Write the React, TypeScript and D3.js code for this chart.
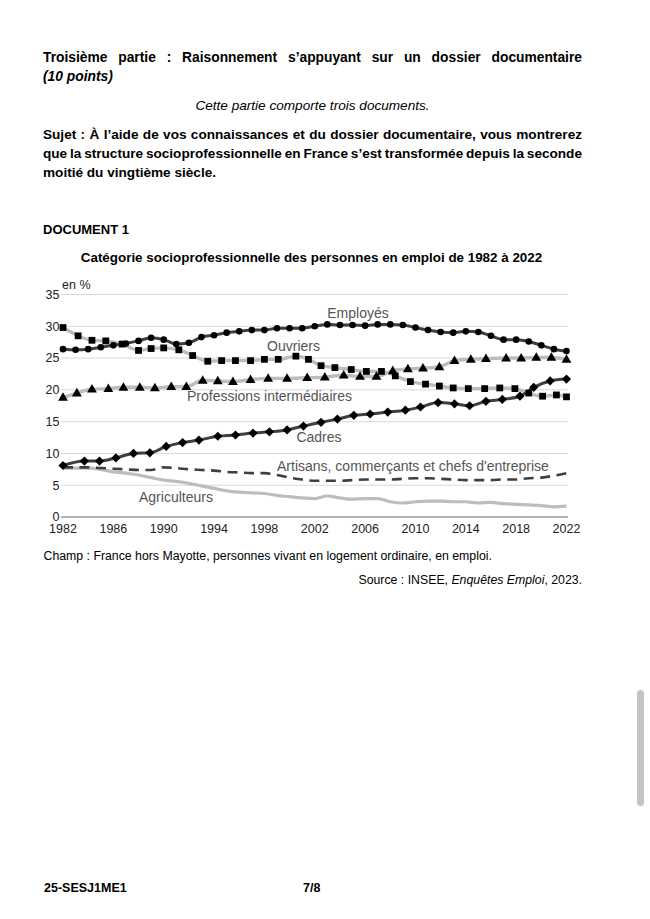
import React, { useLayoutEffect, useRef, useState } from "react";
import * as d3 from "d3";

// ---------- DATA ----------
const annualYears = [
  1982, 1983, 1984, 1985, 1986, 1987, 1988, 1989, 1990, 1991, 1992, 1993, 1994, 1995,
  1996, 1997, 1998, 1999, 2000, 2001, 2002, 2003, 2004, 2005, 2006, 2007, 2008, 2009,
  2010, 2011, 2012, 2013, 2014, 2015, 2016, 2017, 2018, 2019, 2020, 2021, 2022,
];
const employesValues = [
  26.4, 26.3, 26.4, 26.7, 27.0, 27.3, 27.7, 28.2, 27.9, 27.2, 27.4, 28.3, 28.6, 29.0,
  29.2, 29.4, 29.4, 29.7, 29.7, 29.7, 30.0, 30.3, 30.2, 30.2, 30.1, 30.3, 30.3, 30.2,
  29.8, 29.4, 29.1, 29.0, 29.2, 29.1, 28.5, 27.9, 27.9, 27.6, 27.0, 26.4, 26.1,
];
const artisansValues = [
  7.8, 7.8, 7.8, 7.7, 7.6, 7.5, 7.4, 7.4, 7.8, 7.7, 7.5, 7.4, 7.3, 7.1,
  7.0, 6.9, 6.9, 6.6, 6.2, 5.9, 5.7, 5.7, 5.7, 5.8, 5.9, 5.9, 5.9, 6.0,
  6.1, 6.1, 6.0, 5.9, 5.8, 5.8, 5.8, 5.9, 5.9, 6.1, 6.2, 6.5, 6.9,
];
const agriculteursValues = [
  7.7, 7.7, 7.7, 7.5, 7.1, 6.9, 6.6, 6.2, 5.8, 5.6, 5.3, 4.9, 4.5, 4.1,
  3.9, 3.8, 3.7, 3.4, 3.2, 3.0, 2.9, 3.3, 3.0, 2.8, 2.9, 2.9, 2.4, 2.2,
  2.4, 2.5, 2.5, 2.4, 2.4, 2.2, 2.3, 2.1, 2.0, 1.9, 1.8, 1.6, 1.7,
];
const ouvriersYears = [
  1982.0, 1983.2, 1984.3, 1985.4, 1986.7, 1988.0, 1989.0, 1990.0, 1991.2, 1992.3, 1993.5, 1994.6,
  1995.7, 1996.9, 1998.0, 1999.1, 2000.5, 2001.5, 2002.5, 2003.6, 2004.9, 2006.1, 2007.3, 2008.4,
  2009.6, 2010.8, 2011.9, 2013.0, 2014.2, 2015.5, 2016.7, 2017.9, 2019.0, 2020.1, 2021.2, 2022.0,
];
const ouvriersValues = [
  29.8, 28.5, 27.8, 27.7, 27.2, 26.2, 26.5, 26.6, 26.3, 25.4, 24.5, 24.6,
  24.6, 24.6, 24.8, 24.8, 25.3, 24.8, 23.8, 23.5, 23.2, 22.9, 22.9, 22.2,
  21.3, 20.9, 20.6, 20.3, 20.2, 20.2, 20.3, 20.2, 19.5, 19.0, 19.2, 18.9,
];
const professionsYears = [
  1982.0, 1983.1, 1984.3, 1985.6, 1986.8, 1988.1, 1989.3, 1990.6, 1991.8, 1993.1, 1994.3,
  1995.5, 1996.9, 1998.3, 1999.8, 2001.4, 2002.8, 2004.3, 2005.6, 2006.9, 2008.2, 2009.4,
  2010.6, 2011.9, 2013.1, 2014.4, 2015.6, 2017.2, 2018.4, 2019.6, 2020.8, 2022.0,
];
const professionsValues = [
  18.8, 19.5, 20.1, 20.2, 20.4, 20.4, 20.3, 20.5, 20.5, 21.5, 21.4,
  21.3, 21.6, 21.8, 21.8, 21.9, 22.0, 22.3, 22.1, 22.1, 23.0, 23.3,
  23.4, 23.6, 24.6, 24.8, 24.9, 25.0, 25.0, 25.1, 25.1, 24.8,
];
const cadresYears = [
  1982.0, 1983.7, 1984.9, 1986.2, 1987.6, 1988.9, 1990.2, 1991.5, 1992.8, 1994.3, 1995.7,
  1997.1, 1998.4, 1999.8, 2001.1, 2002.5, 2003.8, 2005.1, 2006.4, 2007.8, 2009.2, 2010.4,
  2011.8, 2013.1, 2014.3, 2015.6, 2016.9, 2018.3, 2019.4, 2020.7, 2022.0,
];
const cadresValues = [
  8.1, 8.8, 8.8, 9.3, 10.0, 10.1, 11.1, 11.7, 12.1, 12.7, 12.9,
  13.2, 13.4, 13.7, 14.3, 14.9, 15.4, 16.0, 16.2, 16.5, 16.8, 17.3,
  18.0, 17.8, 17.5, 18.2, 18.5, 19.0, 20.4, 21.4, 21.7,
];
const yTicks = [0, 5, 10, 15, 20, 25, 30, 35];
const xTickLabels = [1982, 1986, 1990, 1994, 1998, 2002, 2006, 2010, 2014, 2018, 2022];

const seriesLabels = {
  employes: "Employés",
  ouvriers: "Ouvriers",
  professions: "Professions intermédiaires",
  cadres: "Cadres",
  artisans: "Artisans, commerçants et chefs d'entreprise",
  agriculteurs: "Agriculteurs",
};

// ---------- STYLE ----------
const FONT = "'Liberation Sans', Arial, Helvetica, sans-serif";
const DARK = "#3f3f3f";
const LIGHT = "#bdbdbd";

type Pt = [number, number];
const zip = (xs: number[], ys: number[]): Pt[] => xs.map((x, i) => [x, ys[i]]);

function JustifiedText(props: {
  x: number; y: number; width: number; text: string; size: number;
  weight?: string; style?: string;
}) {
  const ref = useRef<SVGTextElement>(null);
  const [ws, setWs] = useState(0);
  useLayoutEffect(() => {
    const el = ref.current;
    if (!el) return;
    el.setAttribute("word-spacing", "0");
    const natural = el.getComputedTextLength();
    const spaces = (props.text.match(/ /g) || []).length;
    if (spaces > 0) setWs((props.width - natural) / spaces);
  }, [props.text, props.width]);
  return (
    <text ref={ref} x={props.x} y={props.y} fontSize={props.size} fontWeight={props.weight}
      fontStyle={props.style} fontFamily={FONT} wordSpacing={ws} fill="#000">
      {props.text}
    </text>
  );
}

export default function App() {
  const x = d3.scaleLinear().domain([1982, 2022]).range([63, 566.5]);
  const y = d3.scaleLinear().domain([0, 35]).range([517, 294.5]);
  const line = d3.line<Pt>().x((d) => x(d[0])).y((d) => y(d[1])).curve(d3.curveMonotoneX);

  const employes = zip(annualYears, employesValues);
  const artisans = zip(annualYears, artisansValues);
  const agriculteurs = zip(annualYears, agriculteursValues);
  const ouvriers = zip(ouvriersYears, ouvriersValues);
  const professions = zip(professionsYears, professionsValues);
  const cadres = zip(cadresYears, cadresValues);

  const sq = d3.symbol().type(d3.symbolSquare).size(46)()!;
  const tri = d3.symbol().type(d3.symbolTriangle).size(42)()!;
  const dia = "M0,-4.6L4.6,0L0,4.6L-4.6,0Z";

  const gx0 = 61, gx1 = 568;
  const labelColor = "#555";

  return (
    <svg width={650} height={919} style={{ position: "absolute", left: 0, top: 0, background: "#fff" }}
      fontFamily={FONT}>
      {/* Page text */}
      <JustifiedText x={43} y={62} width={539} size={13.8} weight="bold"
        text="Troisième partie : Raisonnement s’appuyant sur un dossier documentaire" />
      <text x={43} y={81} fontSize={13.8} fontWeight="bold" fontStyle="italic">(10 points)</text>
      <text x={312.5} y={110} fontSize={13.6} fontStyle="italic" textAnchor="middle">
        Cette partie comporte trois documents.
      </text>
      <JustifiedText x={43} y={139} width={539} size={13.6} weight="bold"
        text="Sujet : À l’aide de vos connaissances et du dossier documentaire, vous montrerez" />
      <JustifiedText x={43} y={158} width={539} size={13.6} weight="bold"
        text="que la structure socioprofessionnelle en France s’est transformée depuis la seconde" />
      <text x={43} y={177} fontSize={13.6} fontWeight="bold">moitié du vingtième siècle.</text>

      <text x={43} y={233.5} fontSize={13} fontWeight="bold">DOCUMENT 1</text>
      <text x={311.5} y={262} fontSize={13.4} fontWeight="bold" textAnchor="middle">
        Catégorie socioprofessionnelle des personnes en emploi de 1982 à 2022
      </text>

      {/* Grid */}
      {yTicks.map((t) => (
        <g key={t}>
          {t > 0 && (
            <line x1={gx0} x2={gx1} y1={y(t)} y2={y(t)} stroke="#d9d9d9" strokeWidth={1} />
          )}
          <text x={59.5} y={y(t) + 4.4} fontSize={12.5} textAnchor="end" fill="#222">{t}</text>
        </g>
      ))}
      <line x1={gx0} x2={gx1} y1={y(0)} y2={y(0)} stroke="#9a9a9a" strokeWidth={1.3} />
      <text x={62} y={289} fontSize={12.5} fill="#222">en %</text>
      {xTickLabels.map((t) => (
        <text key={t} x={x(t)} y={532.5} fontSize={12.5} textAnchor="middle" fill="#222">{t}</text>
      ))}

      {/* Lines */}
      <path d={line(agriculteurs)!} fill="none" stroke={LIGHT} strokeWidth={3.2} />
      <path d={line(artisans)!} fill="none" stroke={DARK} strokeWidth={2.6} strokeDasharray="10,6.5" />
      <path d={line(ouvriers)!} fill="none" stroke={LIGHT} strokeWidth={3.4} />
      <path d={line(professions)!} fill="none" stroke={LIGHT} strokeWidth={3.4} />
      <path d={line(employes)!} fill="none" stroke={DARK} strokeWidth={3} />
      <path d={line(cadres)!} fill="none" stroke={DARK} strokeWidth={3} />

      {/* Markers */}
      {ouvriers.map((d, i) => (
        <path key={"o" + i} d={sq} transform={`translate(${x(d[0])},${y(d[1])})`} fill="#000" />
      ))}
      {professions.map((d, i) => (
        <path key={"p" + i} d={tri} transform={`translate(${x(d[0])},${y(d[1]) + 0.5})`} fill="#000" />
      ))}
      {employes.map((d, i) => (
        <circle key={"e" + i} cx={x(d[0])} cy={y(d[1])} r={3.3} fill="#000" />
      ))}
      {cadres.map((d, i) => (
        <path key={"c" + i} d={dia} transform={`translate(${x(d[0])},${y(d[1])})`} fill="#000" />
      ))}

      {/* Series labels */}
      <g fontSize={14} fill={labelColor}>
        <text x={358} y={318} textAnchor="middle">{seriesLabels.employes}</text>
        <text x={293.5} y={351} textAnchor="middle">{seriesLabels.ouvriers}</text>
        <text x={187} y={401}>{seriesLabels.professions}</text>
        <text x={319} y={442} textAnchor="middle">{seriesLabels.cadres}</text>
        <text x={277} y={471}>{seriesLabels.artisans}</text>
        <text x={139} y={502}>{seriesLabels.agriculteurs}</text>
      </g>

      {/* Notes */}
      <text x={43.5} y={560} fontSize={12.3}>
        Champ : France hors Mayotte, personnes vivant en logement ordinaire, en emploi.
      </text>
      <text x={582} y={584} fontSize={12.3} textAnchor="end">
        Source : INSEE, <tspan fontStyle="italic">Enquêtes Emploi</tspan>, 2023.
      </text>

      {/* Footer */}
      <text x={44} y={892} fontSize={12.5} fontWeight="bold">25-SESJ1ME1</text>
      <text x={303} y={892} fontSize={12.5} fontWeight="bold">7/8</text>

      {/* Scrollbar thumb */}
      <rect x={637} y={690} width={7} height={116} rx={3.5} fill="#c4c4c4" />
    </svg>
  );
}
